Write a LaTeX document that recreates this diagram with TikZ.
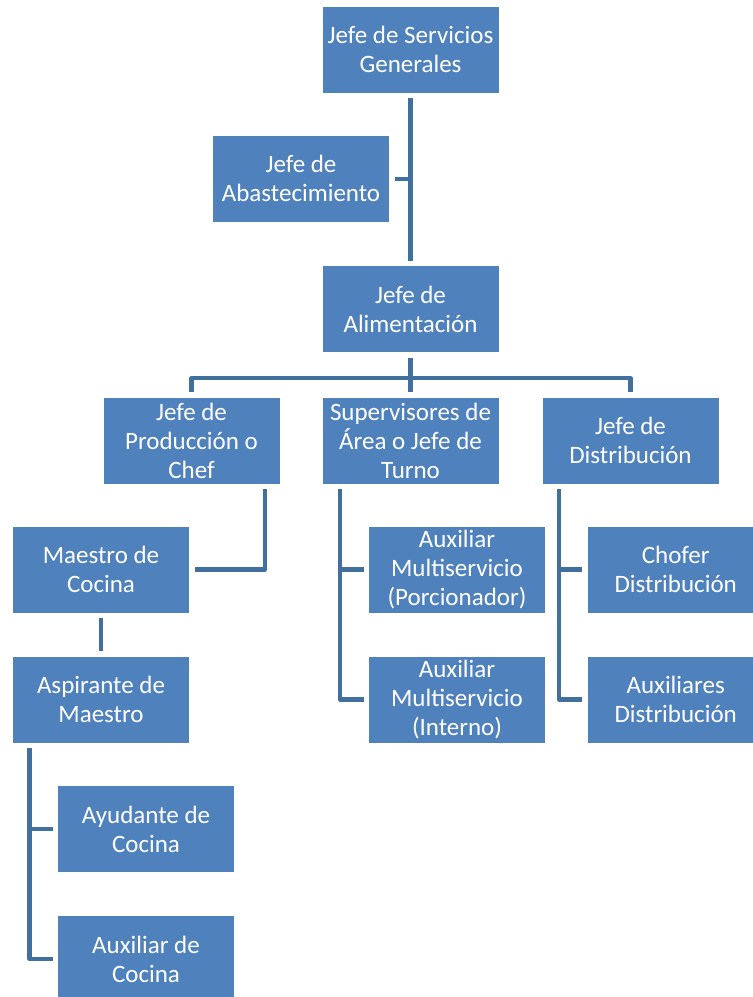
\documentclass[tikz,border=0pt]{standalone}
\usepackage{fontspec}
\setmainfont{Carlito}
\usepackage{tikz}
\definecolor{BoxBlue}{HTML}{4F81BD}
\definecolor{LineBlue}{HTML}{41709F}
\tikzset{
  cargo/.style={rectangle, fill=BoxBlue, text=white, minimum width=176pt, minimum height=86pt,
    inner sep=2pt, outer sep=5.5pt, align=center, font=\fontsize{25}{29}\selectfont},
  enlace/.style={draw=LineBlue, line width=4.2pt, line join=round}
}
\begin{document}
\begin{tikzpicture}[x=1pt,y=-1pt]
            \useasboundingbox (0,0) rectangle (753,997);
            \clip (0,0) rectangle (753,997);

            \node[cargo] (gen) at (410.5,49.5){Jefe de Servicios\\Generales};
            \node[cargo] (abast) at (301,178.7){Jefe de\\Abastecimiento};
            \node[cargo] (alim) at (410.5,309.2){Jefe de\\Alimentación};

            \node[cargo] (chef) at (191.5,440.5){Jefe de\\Producción o\\Chef};
            \node[cargo] (sup) at (410.5,440.5){Supervisores de\\Área o Jefe de\\Turno};
            \node[cargo] (dist) at (630.5,440.5){Jefe de\\Distribución};

            \node[cargo] (maestro) at (101,569.5){Maestro de\\Cocina};
            \node[cargo] (aspir) at (101,699.5){Aspirante de\\Maestro};
            \node[cargo] (ayud) at (146,829){Ayudante de\\Cocina};
            \node[cargo] (auxcoc) at (146,959){Auxiliar de\\Cocina};

            \node[cargo] (porc) at (457,569.5){Auxiliar\\Multiservicio\\(Porcionador)};
            \node[cargo] (interno) at (457,699.5){Auxiliar\\Multiservicio\\(Interno)};

            \node[cargo] (chofer) at (675.7,569.5){Chofer\\Distribución};
            \node[cargo] (auxdis) at (675.7,699.5){Auxiliares\\Distribución};

            \coordinate (bus) at (410.5,378);

            \draw[enlace] (gen.south) -- (alim.north);
            \draw[enlace] (abast.east) -- (abast.east -| gen.south);
            \draw[enlace] (alim.south) -- (bus);
            \draw[enlace] (chef.north) |- (bus) -| (dist.north);
            \draw[enlace] (bus) -- (sup.north);

            \draw[enlace] ([xshift=-20pt]chef.south east) |- (maestro.east);
            \draw[enlace] (maestro.south) -- (aspir.north);
            \draw[enlace] ([xshift=22pt]aspir.south west) |- (ayud.west);
            \draw[enlace] ([xshift=22pt]aspir.south west) |- (auxcoc.west);

            \draw[enlace] ([xshift=23pt]sup.south west) |- (porc.west);
            \draw[enlace] ([xshift=23pt]sup.south west) |- (interno.west);

            \draw[enlace] ([xshift=22pt]dist.south west) |- (chofer.west);
            \draw[enlace] ([xshift=22pt]dist.south west) |- (auxdis.west);
            \end{tikzpicture}
\end{document}
